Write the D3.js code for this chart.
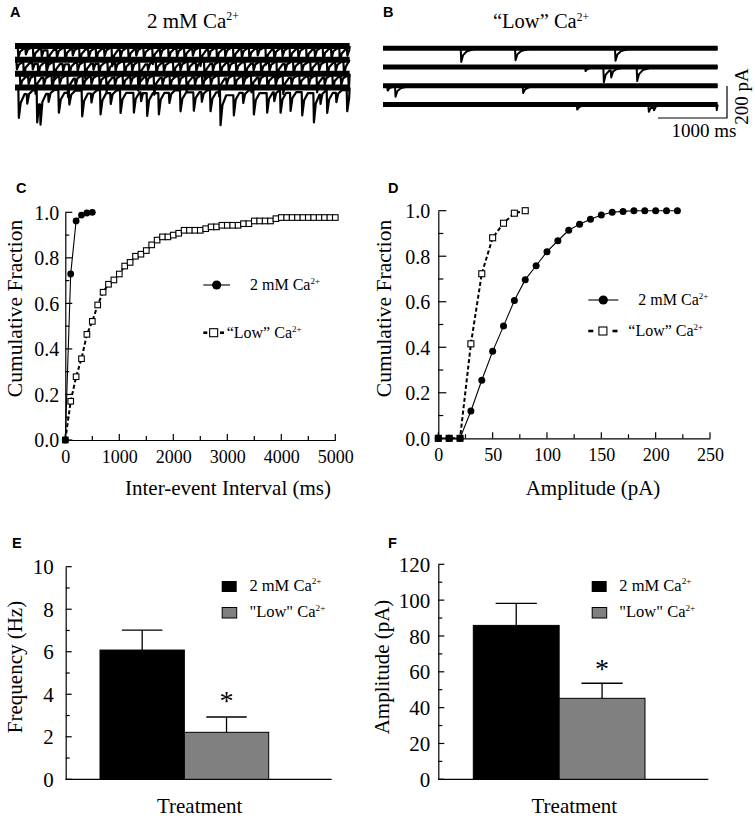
<!DOCTYPE html>
<html><head><meta charset="utf-8">
<script src="https://cdn.jsdelivr.net/npm/d3@7"></script>
<style>
body{margin:0;background:#fff}
svg{display:block}
</style>
</head><body>
<svg id="fig" width="755" height="818"></svg>
<script>
// ---------------- DATA ----------------
// Panels A/B: miniature EPSC events [time ms, amplitude pA] per sweep (read approx. from the traces)
const traceDurationMs = 4850;
const traceA1 = [[40,70],[150,45],[260,90],[380,55],[470,110],[600,60],[720,85],[830,50],[930,100],[1060,65],[1170,80],[1290,55],[1400,120],[1520,60],[1640,90],[1750,50],[1860,75],[1990,105],[2100,55],[2220,80],[2340,60],[2450,95],[2570,50],[2680,120],[2800,65],[2920,85],[3040,55],[3160,100],[3280,60],[3390,80],[3510,50],[3630,110],[3750,70],[3870,55],[3980,90],[4100,60],[4220,100],[4340,55],[4460,85],[4580,65],[4700,95],[4810,50]];
const traceA2 = [[20,60],[120,95],[250,50],[330,80],[450,65],[560,120],[690,55],[780,85],[900,60],[1010,110],[1130,50],[1210,75],[1340,95],[1450,55],[1580,85],[1690,60],[1800,130],[1920,50],[2040,80],[2150,65],[2290,100],[2390,55],[2500,85],[2620,60],[2740,115],[2860,55],[2970,90],[3090,60],[3200,75],[3330,105],[3450,55],[3560,85],[3680,60],[3790,120],[3910,55],[4030,80],[4150,65],[4280,100],[4400,55],[4520,90],[4640,60],[4760,85]];
const traceA3 = [[70,85],[190,55],[290,120],[410,60],[530,80],[640,55],[760,140],[870,60],[980,90],[1100,55],[1220,75],[1320,110],[1440,60],[1560,85],[1670,55],[1780,100],[1900,60],[2010,125],[2130,55],[2240,80],[2370,60],[2480,105],[2600,55],[2710,85],[2830,60],[2950,135],[3060,55],[3180,80],[3300,65],[3420,110],[3530,55],[3650,90],[3770,60],[3880,120],[4000,55],[4120,85],[4250,60],[4370,110],[4480,55],[4600,90],[4720,60],[4830,100]];
const traceA4 = [[48,190],[170,80],[314,210],[362,180],[480,70],[628,150],[780,90],[966,170],[1100,75],[1232,160],[1380,85],[1522,150],[1715,140],[1820,70],[1908,160],[2077,150],[2230,80],[2391,140],[2584,130],[2700,75],[2826,140],[2971,220],[3164,150],[3300,80],[3454,160],[3647,140],[3750,70],[3841,150],[3986,130],[4155,160],[4324,200],[4420,80],[4517,150],[4650,75],[4807,140]];
const traceB1 = [[1126,85],[1913,75],[3362,78]];
const traceB2 = [[2928,25],[3193,95],[3300,55],[3676,88]];
const traceB3 = [[60,30],[174,65],[2024,45]];
const traceB4 = [[2807,32],[3845,45],[3920,25],[4830,35]];
const scaleBarMs = 1000;
const scaleBarPa = 200;

// Panel C: cumulative fraction of inter-event intervals
const intervalBinsMs = [0,100,200,300,400,500,600,700,800,900,1000,1100,1200,1300,1400,1500,1600,1700,1800,1900,2000,2100,2200,2300,2400,2500,2600,2700,2800,2900,3000,3100,3200,3300,3400,3500,3600,3700,3800,3900,4000,4100,4200,4300,4400,4500,4600,4700,4800,4900,5000];
const cdfInterval2mM = [0,0.729,0.962,0.988,0.997,1.0];
const cdfIntervalLow = [0,0.17,0.278,0.357,0.464,0.521,0.593,0.649,0.684,0.703,0.729,0.764,0.78,0.807,0.816,0.832,0.857,0.878,0.892,0.892,0.9,0.908,0.921,0.921,0.921,0.921,0.928,0.936,0.936,0.943,0.943,0.943,0.943,0.95,0.95,0.962,0.962,0.962,0.962,0.972,0.977,0.977,0.977,0.977,0.977,0.977,0.977,0.977,0.977,0.977,0.977];
const intervalTicks = [0,1000,2000,3000,4000,5000];
const intervalMinorTicks = [500,1500,2500,3500,4500];

// Panel D: cumulative fraction of amplitudes
const ampBinsPa = [0,10,20,30,40,50,60,70,80,90,100,110,120,130,140,150,160,170,180,190,200,210,220];
const cdfAmp2mM = [0,0,0,0.12,0.255,0.382,0.493,0.605,0.697,0.758,0.82,0.868,0.914,0.941,0.962,0.981,0.993,0.997,1,1,1,1,1];
const cdfAmpLow = [0,0,0,0.415,0.723,0.881,0.945,0.989,1.0];
const ampTicks = [0,50,100,150,200,250];
const ampMinorTicks = [25,75,125,175,225];
const cdfTicks = [0,0.2,0.4,0.6,0.8,1.0];
const cdfMinorTicks = [0.1,0.3,0.5,0.7,0.9];

// Panels E/F: group means ± SEM
const groups = ['2mM','Low'];
const freqMean = [6.08, 2.21];
const freqSem = [0.94, 0.72];
const ampMean = [85.9, 45.2];
const ampSem = [12.3, 8.4];
const freqTicks = [0,2,4,6,8,10];
const freqMinorTicks = [1,3,5,7,9];
const ampBarTicks = [0,20,40,60,80,100,120];
const ampBarMinorTicks = [10,30,50,70,90,110];

// ---------------- DRAW ----------------
const SERIF = '"Liberation Serif","Times New Roman",serif';
const SANS = '"Liberation Sans",Arial,sans-serif';
const GREY = '#808080';
const svg = d3.select('#fig');
svg.append('rect').attr('width',755).attr('height',818).attr('fill','#fff');

function caText(x, y, pre, size, anchor) {
  const t = svg.append('text').attr('x',x).attr('y',y).attr('font-family',SERIF)
    .attr('font-size',size).attr('text-anchor',anchor||'start').attr('fill','#000');
  t.append('tspan').text(pre + 'Ca');
  t.append('tspan').attr('font-size',size*0.56).attr('dy',-size*0.38).text('2+');
  return t;
}
function plainText(x, y, str, size, opts) {
  opts = opts || {};
  const t = svg.append('text').attr('font-family',opts.family||SERIF).attr('font-size',size)
    .attr('text-anchor',opts.anchor||'start').attr('fill','#000').text(str);
  if (opts.rotate) t.attr('transform',`translate(${x},${y}) rotate(-90)`);
  else t.attr('x',x).attr('y',y);
  if (opts.bold) t.attr('font-weight','bold');
  return t;
}
function panelLetter(x,y,l){ plainText(x,y,l,14.5,{family:SANS,bold:true}); }

// Axis labels & domain from d3 axes; inward tick marks drawn from the same scale
function tickMarks(scale, values, orient, pos, len) {
  const g = svg.append('g');
  g.selectAll('line').data(values).join('line')
    .attr('x1', d => orient === 'y' ? pos : scale(d))
    .attr('x2', d => orient === 'y' ? pos + len : scale(d))
    .attr('y1', d => orient === 'y' ? scale(d) : pos)
    .attr('y2', d => orient === 'y' ? scale(d) : pos - len)
    .attr('stroke', '#000').attr('stroke-width', 1.2);
}
function yAxis(scale, x, major, minor, fmt, fs, pad, majLen, minLen) {
  const a = svg.append('g').attr('transform',`translate(${x},0)`)
    .call(d3.axisLeft(scale).tickValues(major).tickFormat(fmt).tickSize(0).tickSizeOuter(0).tickPadding(pad));
  a.attr('font-size',fs).attr('font-family',SERIF);
  a.selectAll('text').attr('fill','#000').attr('dy','0.34em');
  a.select('.domain').attr('stroke','#000').attr('stroke-width',1.2);
  tickMarks(scale, major, 'y', x, majLen);
  tickMarks(scale, minor, 'y', x, minLen);
}
function xAxis(scale, y, major, minor, fmt, fs, pad, majLen, minLen) {
  const a = svg.append('g').attr('transform',`translate(0,${y})`)
    .call(d3.axisBottom(scale).tickValues(major).tickFormat(fmt).tickSize(0).tickSizeOuter(0).tickPadding(pad));
  a.attr('font-size',fs).attr('font-family',SERIF);
  a.selectAll('text').attr('fill','#000');
  a.select('.domain').attr('stroke','#000').attr('stroke-width',1.2);
  tickMarks(scale, major, 'x', y, majLen);
  tickMarks(scale, minor, 'x', y, minLen);
}

// ---- Panels A & B: traces ----
panelLetter(10,17,'A');
panelLetter(383,17,'B');
caText(147,28.3,'2 mM ',21);
caText(493,28.3,'\u201cLow\u201d ',20.5);

const ampPx = d3.scaleLinear().domain([0,scaleBarPa]).range([0,32]);
function tracePoints(events) {
  const pts = [[0,0]];
  for (const [t,a] of events) {
    while (pts.length > 1 && pts[pts.length-1][0] >= t) pts.pop();
    const last = pts[pts.length-1];
    pts.push([t, last[1]]);
    pts.push([t+8, last[1]*0.5 + a], [t+35, a*0.5], [t+90, a*0.22], [t+200, a*0.06], [t+320, 0]);
  }
  while (pts.length > 1 && pts[pts.length-1][0] >= traceDurationMs) pts.pop();
  pts.push([traceDurationMs, 0]);
  return pts;
}
function drawTraces(sweeps, x0, rowRange, band, evW) {
  const xs = d3.scaleLinear().domain([0,traceDurationMs]).range([x0, x0 + 0.069*traceDurationMs]);
  const row = d3.scalePoint().domain(d3.range(sweeps.length)).range(rowRange);
  sweeps.forEach((ev,i) => {
    const base = row(i);
    svg.append('line').attr('x1',xs(0)).attr('x2',xs(traceDurationMs)).attr('y1',base).attr('y2',base)
      .attr('stroke','#000').attr('stroke-width',band);
    const line = d3.line().x(d=>xs(d[0])).y(d=>base + ampPx(d[1]));
    svg.append('path').attr('d',line(tracePoints(ev))).attr('fill','none')
      .attr('stroke','#000').attr('stroke-width',evW).attr('stroke-linejoin','round');
  });
  return xs;
}
drawTraces([traceA1,traceA2,traceA3,traceA4], 15, [46,87.5], 6, 2.2);
const xsB = drawTraces([traceB1,traceB2,traceB3,traceB4], 383, [48.3,104.5], 5, 2);
// scale bar
const sbRight = 727, sbBottom = 118;
const sbLen = xsB(scaleBarMs) - xsB(0);
svg.append('path').attr('d',`M${sbRight-sbLen},${sbBottom}H${sbRight}V${sbBottom-ampPx(scaleBarPa)}`)
  .attr('fill','none').attr('stroke','#000').attr('stroke-width',1.2);
plainText(704,137, scaleBarMs + ' ms',19,{anchor:'middle'});
plainText(748,96.5, scaleBarPa + ' pA',19,{anchor:'middle',rotate:true});

// ---- Panel C ----
panelLetter(16,193,'C');
const xC = d3.scaleLinear().domain([0,5000]).range([65.3,335.3]);
const yC = d3.scaleLinear().domain([0,1]).range([440,212.3]);
yAxis(yC, xC(0), cdfTicks, cdfMinorTicks, d3.format('.1f'), 20, 6, 7, 4);
xAxis(xC, yC(0), intervalTicks, intervalMinorTicks, d3.format('d'), 18, 10, 6, 4);
plainText(21.5,308.5,'Cumulative Fraction',21.5,{anchor:'middle',rotate:true});
plainText(228,495,'Inter-event Interval (ms)',21,{anchor:'middle'});

function drawCdf(xs, ys, bins, hi, lo, sqSize, rad) {
  const dHi = hi.map((v,i)=>[bins[i],v]);
  const dLo = lo.map((v,i)=>[bins[i],v]);
  const line = d3.line().x(d=>xs(d[0])).y(d=>ys(d[1]));
  svg.append('path').attr('d',line(dHi)).attr('fill','none').attr('stroke','#000').attr('stroke-width',1.1);
  svg.append('path').attr('d',line(dLo)).attr('fill','none').attr('stroke','#000').attr('stroke-width',2)
    .attr('stroke-dasharray','4,2.5');
  svg.append('g').selectAll('circle').data(dHi).join('circle')
    .attr('cx',d=>xs(d[0])).attr('cy',d=>ys(d[1])).attr('r',rad).attr('fill','#000');
  svg.append('g').selectAll('rect').data(dLo).join('rect')
    .attr('x',d=>xs(d[0])-sqSize/2).attr('y',d=>ys(d[1])-sqSize/2)
    .attr('width',sqSize).attr('height',sqSize)
    .attr('fill',d=> d[1]===0 ? '#000' : '#fff').attr('stroke','#000').attr('stroke-width',1.1);
}
drawCdf(xC, yC, intervalBinsMs, cdfInterval2mM, cdfIntervalLow, 5.6, 3.4);

function cdfLegend(x1, x2a, x2b, yA, yB, textA, textB, dashLen, fs) {
  svg.append('line').attr('x1',x1).attr('x2',x2a).attr('y1',yA).attr('y2',yA).attr('stroke','#000').attr('stroke-width',1.1);
  svg.append('circle').attr('cx',(x1+x2a)/2).attr('cy',yA).attr('r',4.6).attr('fill','#000');
  caText(textA,yA+fs*0.34,'2 mM ',fs);
  svg.append('line').attr('x1',x1).attr('x2',x1+dashLen).attr('y1',yB).attr('y2',yB).attr('stroke','#000').attr('stroke-width',2.6);
  svg.append('line').attr('x1',x2b-dashLen).attr('x2',x2b).attr('y1',yB).attr('y2',yB).attr('stroke','#000').attr('stroke-width',2.6);
  svg.append('rect').attr('x',(x1+x2b)/2-4).attr('y',yB-4).attr('width',8).attr('height',8)
    .attr('fill','#fff').attr('stroke','#000').attr('stroke-width',1.1);
  caText(textB,yB+fs*0.34,'\u201cLow\u201d ',fs);
}
cdfLegend(203.3,230,224,285,332.7,250,226.7,4,16);

// ---- Panel D ----
panelLetter(388,193,'D');
const xD = d3.scaleLinear().domain([0,250]).range([438.3,710]);
const yD = d3.scaleLinear().domain([0,1]).range([438.3,210.7]);
yAxis(yD, xD(0), cdfTicks, cdfMinorTicks, d3.format('.1f'), 20, 8, 8, 5);
xAxis(xD, yD(0), ampTicks, ampMinorTicks, d3.format('d'), 18, 10, 6, 4);
plainText(391,308.5,'Cumulative Fraction',21.5,{anchor:'middle',rotate:true});
plainText(593,495,'Amplitude (pA)',21,{anchor:'middle'});
drawCdf(xD, yD, ampBinsPa, cdfAmp2mM, cdfAmpLow, 6, 3.5);
cdfLegend(588.3,618.3,617.5,300,331,638.3,628.3,5,16);

// ---- Panels E & F: bars ----
function barPanel(opt) {
  const ys = d3.scaleLinear().domain(opt.domain).range([779.3, opt.yTop]);
  const xb = d3.scaleBand().domain(groups).range(opt.barRange).padding(0);
  yAxis(ys, opt.axisX, opt.ticks, opt.minor, d3.format('d'), 21, opt.pad, 6, 4);
  svg.append('line').attr('x1',opt.axisX).attr('x2',opt.axisEnd).attr('y1',ys(0)).attr('y2',ys(0))
    .attr('stroke','#000').attr('stroke-width',1.2);
  const fills = ['#000', GREY];
  svg.append('g').selectAll('rect').data(groups).join('rect')
    .attr('x',d=>xb(d)).attr('width',xb.bandwidth())
    .attr('y',(d,i)=>ys(opt.mean[i])).attr('height',(d,i)=>ys(0)-ys(opt.mean[i]))
    .attr('fill',(d,i)=>fills[i]).attr('stroke','#000').attr('stroke-width',1);
  const capW = xb.bandwidth()*0.48;
  groups.forEach((g,i)=>{
    const cx = xb(g) + xb.bandwidth()/2;
    const top = ys(opt.mean[i] + opt.sem[i]);
    svg.append('path').attr('d',`M${cx},${ys(opt.mean[i])}V${top}M${cx-capW/2},${top}H${cx+capW/2}`)
      .attr('stroke','#000').attr('stroke-width',1.3).attr('fill','none');
  });
  // significance star on group 2
  const cx2 = xb(groups[1]) + xb.bandwidth()/2;
  plainText(cx2, ys(opt.mean[1]+opt.sem[1]) - opt.starGap, '*', 28, {anchor:'middle'});
  // legend
  const lx = opt.legX;
  svg.append('rect').attr('x',lx).attr('y',581).attr('width',15).attr('height',11).attr('fill','#000');
  svg.append('rect').attr('x',lx+0.5).attr('y',607.5).attr('width',14.5).attr('height',10.5).attr('fill',GREY)
    .attr('stroke','#000').attr('stroke-width',1);
  caText(opt.legTextX, 590.5, '2 mM ', 16.5);
  caText(opt.legTextX, 617, '"Low" ', 16.5);
  plainText(opt.titleX, 667, opt.title, 21, {anchor:'middle', rotate:true});
  plainText((opt.axisX+opt.axisEnd)/2 + 1, 813.3, 'Treatment', 21, {anchor:'middle'});
}
panelLetter(12,548,'E');
barPanel({domain:[0,10], yTop:566.7, barRange:[100,268.7], axisX:65.7, axisEnd:331.7,
  ticks:freqTicks, minor:freqMinorTicks, pad:12, mean:freqMean, sem:freqSem, starGap:7,
  legX:221.7, legTextX:249.4, title:'Frequency (Hz)', titleX:21.6});
panelLetter(388,548,'F');
barPanel({domain:[0,120], yTop:564.3, barRange:[473.3,645], axisX:438.3, axisEnd:708.3,
  ticks:ampBarTicks, minor:ampBarMinorTicks, pad:8, mean:ampMean, sem:ampSem, starGap:5,
  legX:591.7, legTextX:619.3, title:'Amplitude (pA)', titleX:389.3});
</script>
</body></html>
